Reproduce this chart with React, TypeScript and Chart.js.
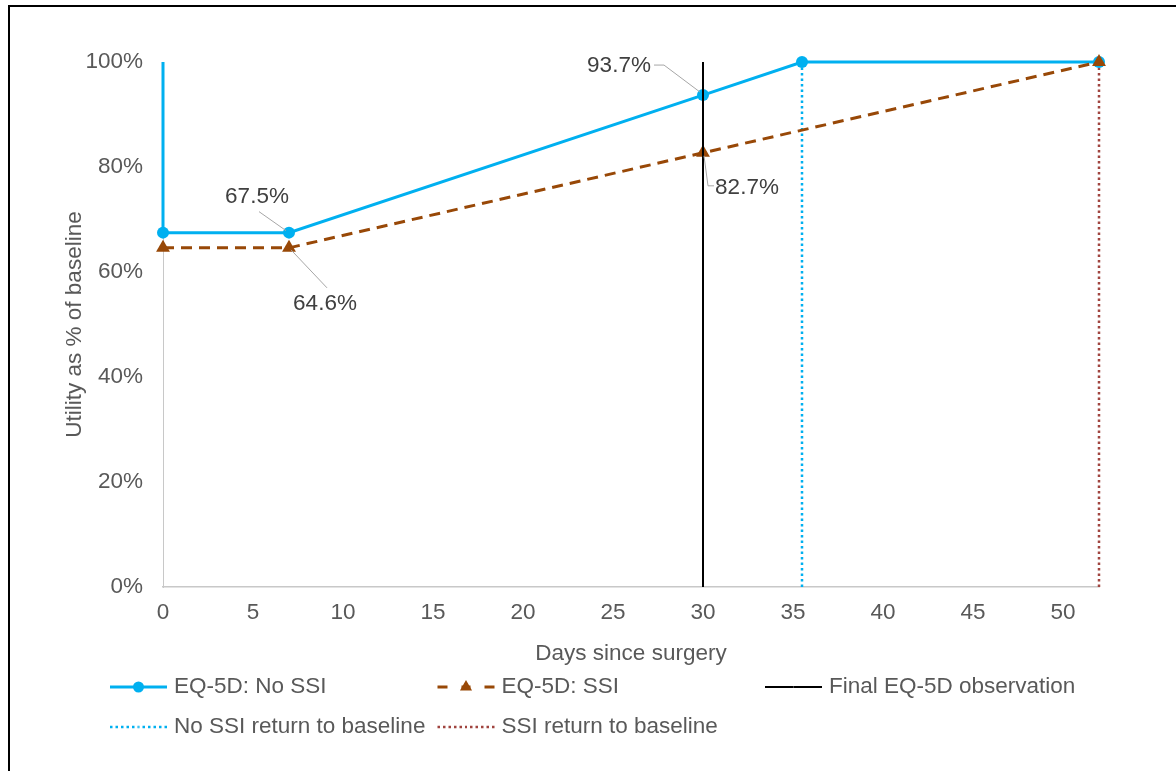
import React, { useEffect, useRef } from 'react';
import { Chart, registerables } from 'chart.js';

Chart.register(...registerables);

// ---- Data ----
const noSsiDays = [0, 0, 7, 30, 35.5, 52];
const noSsiUtility = [100, 67.5, 67.5, 93.7, 100, 100];
const ssiDays = [0, 7, 30, 52];
const ssiUtility = [64.6, 64.6, 82.7, 100];
const finalObservationDay = 30;
const noSsiReturnDay = 35.5;
const ssiReturnDay = 52;
const verticalLineRange = [0, 100];
const xTickValues = [0, 5, 10, 15, 20, 25, 30, 35, 40, 45, 50];
const yTickValues = [0, 20, 40, 60, 80, 100];
const seriesNames = [
  'EQ-5D: No SSI',
  'EQ-5D: SSI',
  'Final EQ-5D observation',
  'No SSI return to baseline',
  'SSI return to baseline',
];
const xAxisTitle = 'Days since surgery';
const yAxisTitle = 'Utility as % of baseline';
// Which points carry a value label (series index, point index)
const labelledPoints = [
  [0, 2],
  [1, 1],
  [0, 3],
  [1, 2],
];

// ---- Styling / placement (not data) ----
const FONT = '"Liberation Sans", Arial, Helvetica, sans-serif';
const FS = 22.5;
const TEXT_GREY = '#595959';
const BLUE = '#00B0F0';
const BROWN = '#984807';
const DARK_RED = '#A0443F';
const AXIS_GREY = '#C8C8C8';

// label text offset from point (px) and leader polyline offsets (px)
const labelPlacement = [
  { dx: -32, dy: -36, leader: [[-30, -21], [-3, -2]] },
  { dx: 36, dy: 56, leader: [[2, 2], [38, 40]] },
  { dx: -84, dy: -29, leader: [[-49, -30], [-39, -30], [-3, -3]] },
  { dx: 44, dy: 35, leader: [[1, 3], [5, 33], [11, 33]] },
];

const legendLayout = { x0: 110, colWidth: 327.5, rowY: [687, 727], perRow: 3, swatch: 57, textGap: 7 };

const toPoints = (xs: number[], ys: number[]) => xs.map((x, i) => ({ x, y: ys[i] }));
const vertical = (day: number) => verticalLineRange.map((y) => ({ x: day, y }));

const dataLabelPlugin = {
  id: 'dataLabels',
  afterDatasetsDraw(chart: any) {
    const ctx = chart.ctx;
    ctx.save();
    labelledPoints.forEach(([ds, idx], k) => {
      const meta = chart.getDatasetMeta(ds);
      const el = meta.data[idx];
      if (!el) return;
      const v = chart.data.datasets[ds].data[idx].y;
      const p = labelPlacement[k];
      ctx.strokeStyle = '#A6A6A6';
      ctx.lineWidth = 1;
      ctx.setLineDash([]);
      ctx.beginPath();
      p.leader.forEach(([lx, ly], j) => {
        if (j === 0) ctx.moveTo(el.x + lx, el.y + ly);
        else ctx.lineTo(el.x + lx, el.y + ly);
      });
      ctx.stroke();
      ctx.fillStyle = '#404040';
      ctx.font = `${FS}px ${FONT}`;
      ctx.textAlign = 'center';
      ctx.textBaseline = 'middle';
      ctx.fillText(`${v.toFixed(1)}%`, el.x + p.dx, el.y + p.dy);
    });
    ctx.restore();
  },
};

function drawMarker(ctx: CanvasRenderingContext2D, style: string, x: number, y: number, r: number, color: string) {
  ctx.fillStyle = color;
  ctx.beginPath();
  if (style === 'triangle') {
    for (let i = 0; i < 3; i++) {
      const a = (i * 2 * Math.PI) / 3;
      const px = x + Math.sin(a) * r;
      const py = y - Math.cos(a) * r;
      if (i === 0) ctx.moveTo(px, py);
      else ctx.lineTo(px, py);
    }
    ctx.closePath();
  } else {
    ctx.arc(x, y, r, 0, Math.PI * 2);
  }
  ctx.fill();
}

const legendPlugin = {
  id: 'customLegend',
  afterDraw(chart: any) {
    const ctx = chart.ctx;
    const L = legendLayout;
    ctx.save();
    chart.data.datasets.forEach((ds: any, i: number) => {
      const col = i % L.perRow;
      const row = Math.floor(i / L.perRow);
      const x = L.x0 + col * L.colWidth;
      const y = L.rowY[row];
      const cx = x + L.swatch / 2;
      ctx.strokeStyle = ds.borderColor;
      ctx.lineWidth = ds.borderWidth;
      ctx.lineCap = 'butt';
      ctx.setLineDash(ds.legendDash || ds.borderDash || []);
      ctx.beginPath();
      ctx.moveTo(x, y);
      ctx.lineTo(cx, y);
      ctx.stroke();
      ctx.beginPath();
      ctx.moveTo(x + L.swatch, y);
      ctx.lineTo(cx, y);
      ctx.stroke();
      ctx.setLineDash([]);
      if (ds.legendMarkerRadius) {
        drawMarker(ctx, ds.pointStyle, cx, y, ds.legendMarkerRadius, ds.pointBackgroundColor);
      }
      ctx.fillStyle = TEXT_GREY;
      ctx.font = `${FS}px ${FONT}`;
      ctx.textAlign = 'left';
      ctx.textBaseline = 'middle';
      ctx.fillText(ds.label, x + L.swatch + L.textGap, y);
    });
    ctx.restore();
  },
};

export default function App() {
  const ref = useRef<HTMLCanvasElement>(null);

  useEffect(() => {
    document.body.style.margin = '0';
    Chart.defaults.font.family = FONT;
    Chart.defaults.font.size = FS;
    Chart.defaults.color = TEXT_GREY;

    const chart = new Chart(ref.current as HTMLCanvasElement, {
      type: 'line',
      data: {
        datasets: [
          {
            label: seriesNames[0],
            data: toPoints(noSsiDays, noSsiUtility),
            borderColor: BLUE,
            backgroundColor: BLUE,
            borderWidth: 3,
            pointStyle: 'circle',
            pointRadius: noSsiDays.map((_, i) => (i === 0 ? 0 : 6)),
            pointBorderWidth: 0,
            pointBackgroundColor: BLUE,
            legendMarkerRadius: 5.5,
            tension: 0,
            clip: false,
            order: 2,
          } as any,
          {
            label: seriesNames[1],
            data: toPoints(ssiDays, ssiUtility),
            borderColor: BROWN,
            backgroundColor: BROWN,
            borderWidth: 3,
            borderDash: [11, 7],
            legendDash: [10, 14],
            pointStyle: 'triangle',
            pointRadius: 8,
            pointBorderWidth: 0,
            pointBackgroundColor: BROWN,
            legendMarkerRadius: 7,
            tension: 0,
            clip: false,
            order: 1,
          } as any,
          {
            label: seriesNames[2],
            data: vertical(finalObservationDay),
            borderColor: '#000000',
            borderWidth: 2,
            pointRadius: 0,
            clip: false,
            order: 0,
          } as any,
          {
            label: seriesNames[3],
            data: vertical(noSsiReturnDay),
            borderColor: BLUE,
            borderWidth: 2.5,
            borderDash: [2.5, 3],
            pointRadius: 0,
            clip: false,
            order: 3,
          } as any,
          {
            label: seriesNames[4],
            data: vertical(ssiReturnDay),
            borderColor: DARK_RED,
            borderWidth: 2.5,
            borderDash: [2.5, 3],
            pointRadius: 0,
            clip: false,
            order: 4,
          } as any,
        ],
      },
      options: {
        animation: false,
        responsive: false,
        devicePixelRatio: 1,
        events: [],
        layout: { padding: { left: 61, right: 77, top: 62, bottom: 104 } },
        plugins: {
          legend: { display: false },
          tooltip: { enabled: false },
          title: { display: false },
        },
        scales: {
          x: {
            type: 'linear',
            min: 0,
            max: ssiReturnDay,
            afterBuildTicks: (scale: any) => {
              scale.ticks = xTickValues.map((value) => ({ value }));
            },
            afterFit: (scale: any) => {
              scale.height = 80;
            },
            ticks: {
              color: TEXT_GREY,
              font: { size: FS, family: FONT },
              padding: 12,
              maxRotation: 0,
              autoSkip: false,
            },
            grid: { display: false, drawTicks: false },
            border: { display: true, color: AXIS_GREY, width: 1.5 },
            title: {
              display: true,
              text: xAxisTitle,
              color: TEXT_GREY,
              font: { size: FS, family: FONT },
              padding: { top: 0, bottom: 0 },
            },
          },
          y: {
            type: 'linear',
            min: 0,
            max: 100,
            afterBuildTicks: (scale: any) => {
              scale.ticks = yTickValues.map((value) => ({ value }));
            },
            afterFit: (scale: any) => {
              scale.width = 102;
            },
            ticks: {
              color: TEXT_GREY,
              font: { size: FS, family: FONT },
              padding: 20,
              callback: (v: any) => `${v}%`,
            },
            grid: { display: false, drawTicks: false },
            border: { display: true, color: AXIS_GREY, width: 1 },
            title: {
              display: true,
              text: yAxisTitle,
              color: TEXT_GREY,
              font: { size: FS, family: FONT },
              padding: { top: 0, bottom: 0 },
            },
          },
        },
      } as any,
      plugins: [dataLabelPlugin, legendPlugin],
    });
    return () => chart.destroy();
  }, []);

  return (
    <div>
      <div
        style={{
          position: 'fixed',
          left: 8,
          top: 5,
          right: 0,
          bottom: 0,
          borderTop: '2px solid #000',
          borderLeft: '2px solid #000',
        }}
      />
      <canvas
        ref={ref}
        width={1176}
        height={771}
        style={{ position: 'fixed', left: 0, top: 0, display: 'block' }}
      />
    </div>
  );
}
